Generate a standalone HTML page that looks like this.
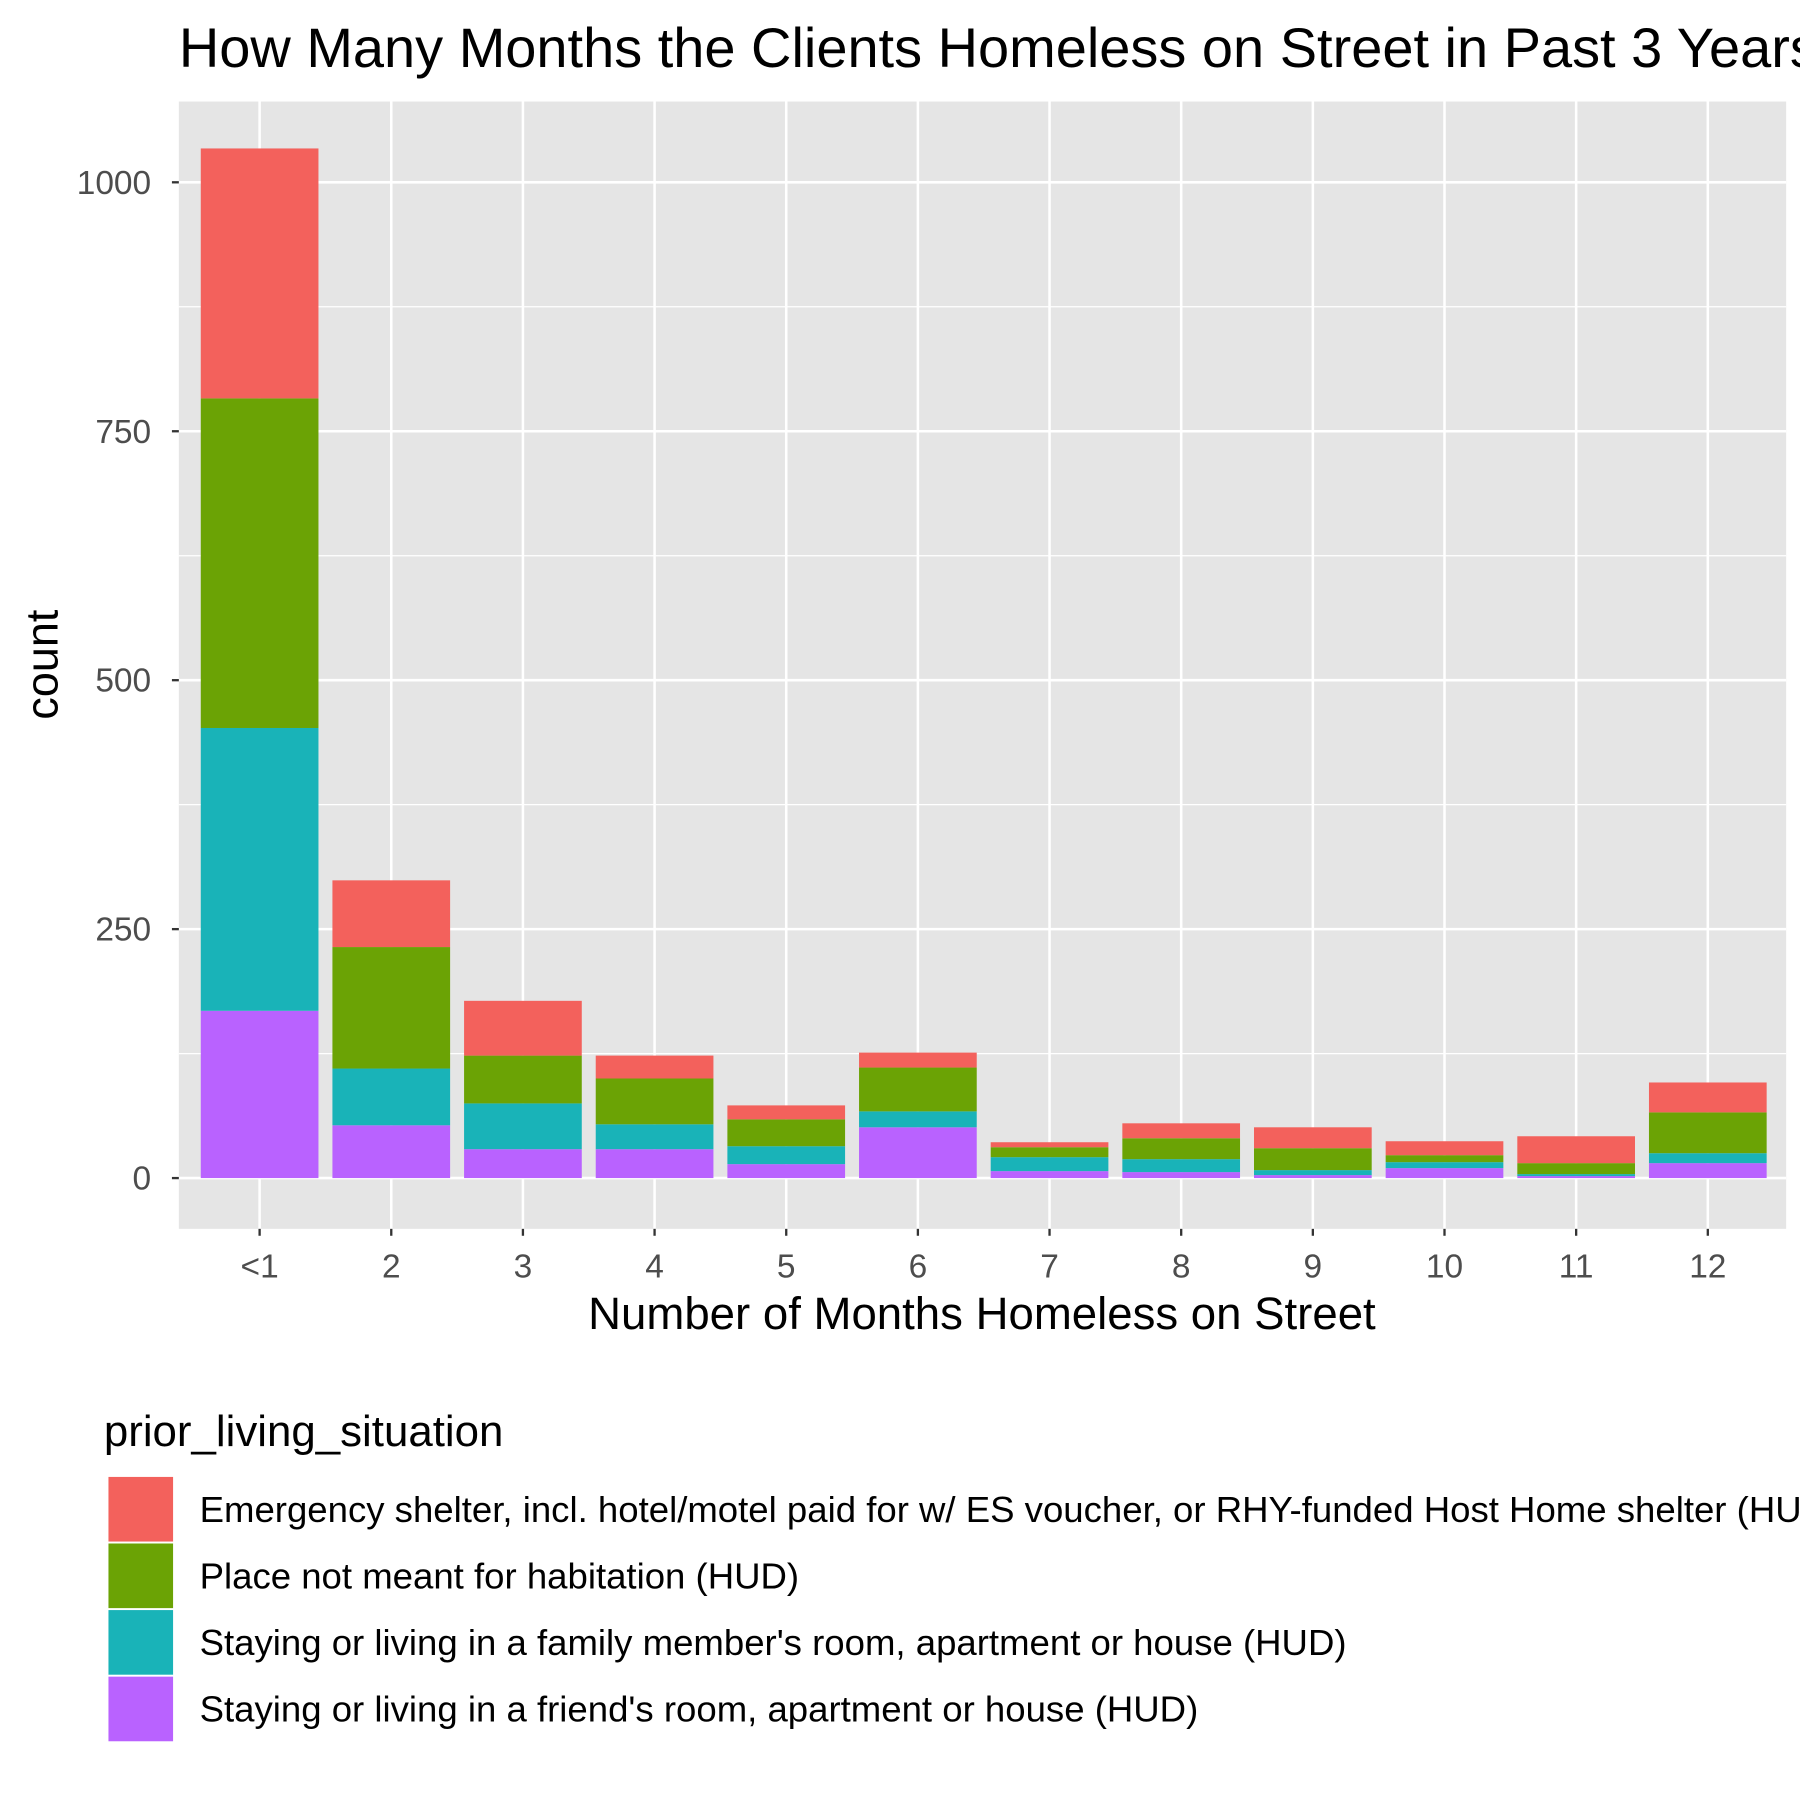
<!DOCTYPE html>
<html><head><meta charset="utf-8"><style>
html,body{margin:0;padding:0;background:#fff;}
svg{display:block;font-family:"Liberation Sans",Arial,sans-serif;}
</style></head><body>
<svg id="chart" width="1800" height="1800" viewBox="0 0 1560 1560" xmlns="http://www.w3.org/2000/svg">
<rect x="0" y="0" width="1560" height="1560" fill="#fff"/>
<text x="155" y="58" font-size="48.5" fill="#000">How Many Months the Clients Homeless on Street in Past 3 Years</text>
<rect x="155" y="88" width="1393" height="977" fill="#e5e5e5"/>
<g id="grid"></g>
<g id="bars"></g>
<g id="axes"></g>
<text x="851" y="1152" font-size="39.5" text-anchor="middle" fill="#000">Number of Months Homeless on Street</text>
<text transform="translate(50,576) rotate(-90)" font-size="39" text-anchor="middle" fill="#000">count</text>
<text x="90" y="1253" font-size="38" fill="#000">prior_living_situation</text>
<g id="legend"></g>
</svg>
<script>
const categories = ["<1","2","3","4","5","6","7","8","9","10","11","12"];
const friendValues = [168,53,29,29,14,51,7,6,3,10,2,15];
const familyValues = [284,57,46,25,18,16,14,13,5,6,2,10];
const placeValues = [331,122,48,46,27,44,10,21,22,7,11,41];
const shelterValues = [251,67,55,23,14,15,5,15,21,14,27,30];
const yTicks = [0,250,500,750,1000];
const seriesNames = ["Emergency shelter, incl. hotel/motel paid for w/ ES voucher, or RHY-funded Host Home shelter (HUD)","Place not meant for habitation (HUD)","Staying or living in a family member's room, apartment or house (HUD)","Staying or living in a friend's room, apartment or house (HUD)"];
const seriesColors = ["#F3615C","#6BA305","#19B3B8","#B962FF"];

const NS="http://www.w3.org/2000/svg";
const y0=1021, pxPerUnit=0.863;
const yScale=v=>y0-v*pxPerUnit;
const xStart=225, xStep=114.1, barW=102;
const xScale=i=>xStart+i*xStep;
function mk(tag,attrs,parent){const e=document.createElementNS(NS,tag);for(const k in attrs)e.setAttribute(k,attrs[k]);parent.appendChild(e);return e;}
const grid=document.getElementById('grid'),bars=document.getElementById('bars'),axes=document.getElementById('axes'),legend=document.getElementById('legend');
for(let i=0;i<yTicks.length-1;i++){
  const v=(yTicks[i]+yTicks[i+1])/2;
  const l=mk('line',{x1:155,x2:1548,y1:yScale(v),y2:yScale(v),stroke:'#fff','stroke-width':1.1},grid);
  
  
}
yTicks.forEach(v=>{
  const l=mk('line',{x1:155,x2:1548,y1:yScale(v),y2:yScale(v),stroke:'#fff','stroke-width':2.2},grid);
  
  
  const t=mk('line',{x1:149,x2:155,y1:yScale(v),y2:yScale(v),stroke:'#333','stroke-width':2},axes);
  
  
  const tx=mk('text',{x:131,y:yScale(v)+10,'font-size':29,'text-anchor':'end',fill:'#4d4d4d'},axes);
  tx.textContent=v;
  
  
});
categories.forEach((c,i)=>{
  const x=xScale(i);
  const l=mk('line',{x1:x,x2:x,y1:88,y2:1065,stroke:'#fff','stroke-width':2.2},grid);
  
  
  const t=mk('line',{x1:x,x2:x,y1:1065,y2:1071,stroke:'#333','stroke-width':2},axes);
  
  
  const tx=mk('text',{x:x,y:1107,'font-size':29,'text-anchor':'middle',fill:'#4d4d4d'},axes);
  tx.textContent=c;
  
  
  const stack=[friendValues[i],familyValues[i],placeValues[i],shelterValues[i]];
  const cols=[seriesColors[3],seriesColors[2],seriesColors[1],seriesColors[0]];
  const names=['friend','family','place','shelter'];
  let cum=0;
  stack.forEach((v,k)=>{
    const top=yScale(cum+v),bot=yScale(cum);
    const r=mk('rect',{x:x-barW/2,y:top,width:barW,height:bot-top,fill:cols[k]},bars);
    
    
    cum+=v;
  });
});
seriesNames.forEach((n,i)=>{
  const y=1280+i*57.7;
  const r=mk('rect',{x:94,y:y,width:56,height:56,fill:seriesColors[i]},legend);
  
  
  const t=mk('text',{x:173,y:y+39,'font-size':31.7,fill:'#000'},legend);
  t.textContent=n;
  
  
});
</script>
</body></html>
